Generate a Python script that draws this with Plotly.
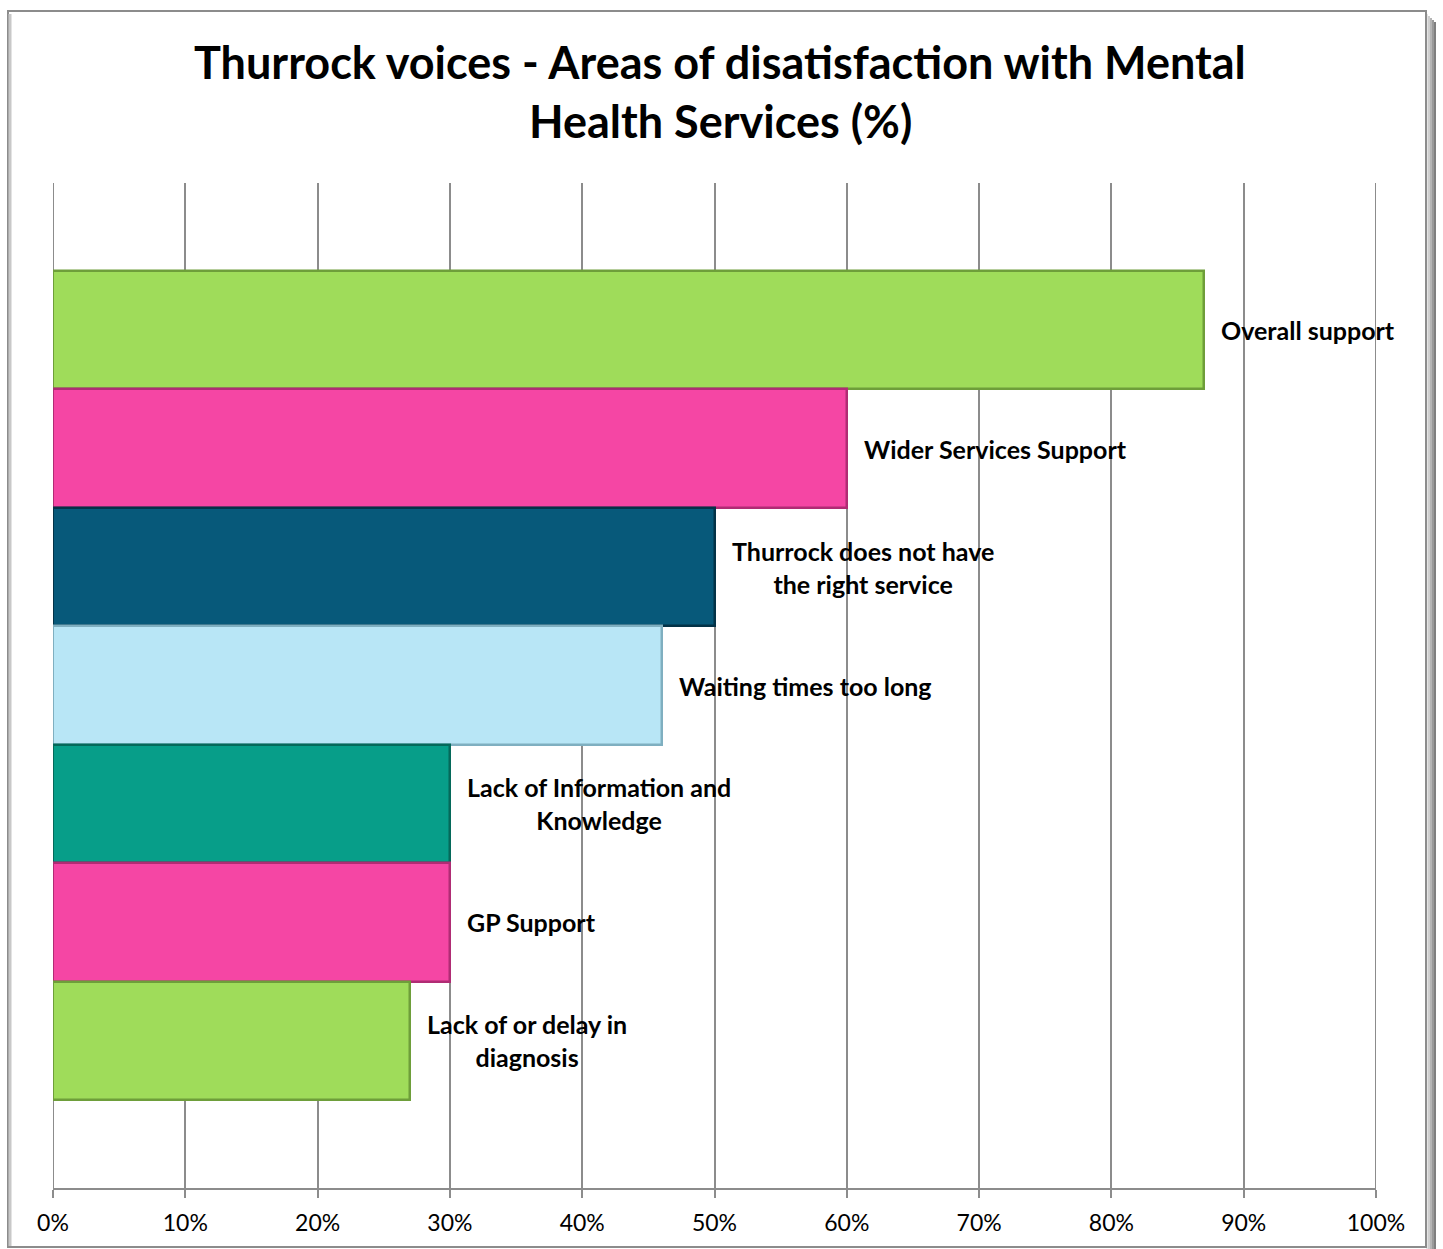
import plotly.graph_objects as go

categories = [
    "Overall support",
    "Wider Services Support",
    "Thurrock does not have<br>the right service",
    "Waiting times too long",
    "Lack of Information and<br>Knowledge",
    "GP Support",
    "Lack of or delay in<br>diagnosis",
]
values = [87, 60, 50, 46, 30, 30, 27]
colors = ["#9FDC5A", "#F546A4", "#07597A", "#B8E6F6", "#079E89", "#F546A4", "#9FDC5A"]
edge_colors = ["#6E9E3A", "#B02C74", "#033247", "#7FAFC0", "#05695A", "#B02C74", "#6E9E3A"]
tick_vals = [0, 10, 20, 30, 40, 50, 60, 70, 80, 90, 100]
tick_text = [f"{v}%" for v in tick_vals]
title_lines = ["Thurrock voices - Areas of disatisfaction with Mental", "Health Services (%)"]

n = len(categories)
ypos = [n - 1 - i for i in range(n)]

W, H = 1443, 1249
ml, mr, mt, mb = 53, 67, 183, 61
pw, ph = W - ml - mr, H - mt - mb

fig = go.Figure()
fig.add_trace(go.Bar(
    x=values, y=ypos, orientation="h", width=1.0,
    marker=dict(color=colors, line=dict(color=edge_colors, width=2.5)),
    hoverinfo="skip", showlegend=False,
))

FONT = "Lato, 'Open Sans', sans-serif"
annotations = []
for v, y, c in zip(values, ypos, categories):
    annotations.append(dict(
        x=v, y=y, xref="x", yref="y", text=f"<b>{c}</b>", showarrow=False,
        xanchor="left", yanchor="middle", align="center", xshift=15,
        font=dict(family=FONT, size=25, color="#000000"),
    ))
for i, (line, ycen) in enumerate(zip(title_lines, [62, 121])):
    annotations.append(dict(
        x=0.5, y=1, xref="paper", yref="paper", text=f"<b>{line}</b>", showarrow=False,
        xanchor="center", yanchor="middle", yshift=mt - ycen,
        xshift=(720 - (ml + pw / 2)),
        font=dict(family=FONT, size=45, color="#000000"),
    ))

def px_to_paper_x(px):
    return (px - ml) / pw

def px_to_paper_y(py):
    return (H - mb - py) / ph

shapes = []
# edge gridlines at the first and last tick
for tv in (tick_vals[0], tick_vals[-1]):
    shapes.append(dict(type="line", xref="x", yref="paper", x0=tv, x1=tv, y0=0, y1=1,
                       line=dict(color="#8c8c8c", width=2), layer="below"))
# shadow of frame (right side)
for k, col in enumerate(["#e4e4e4", "#cfcfcf", "#b5b5b5", "#9a9a9a", "#7f7f7f"]):
    xp = 1427 + 2 * k
    shapes.append(dict(type="line", xref="paper", yref="paper",
                       x0=px_to_paper_x(xp), x1=px_to_paper_x(xp),
                       y0=px_to_paper_y(14 + 2 * k), y1=px_to_paper_y(1249),
                       line=dict(color=col, width=2), layer="above"))
shapes.append(dict(type="rect", xref="paper", yref="paper",
                   x0=px_to_paper_x(8), x1=px_to_paper_x(1426),
                   y0=px_to_paper_y(1247), y1=px_to_paper_y(11),
                   line=dict(color="#8c8c8c", width=2), fillcolor="rgba(0,0,0,0)", layer="above"))
shapes.append(dict(type="line", xref="paper", yref="paper",
                   x0=px_to_paper_x(10), x1=px_to_paper_x(10),
                   y0=px_to_paper_y(1246), y1=px_to_paper_y(14),
                   line=dict(color="#c8c8c8", width=3), layer="above"))

fig.update_layout(
    width=W, height=H,
    margin=dict(l=ml, r=mr, t=mt, b=mb, pad=0),
    paper_bgcolor="#ffffff", plot_bgcolor="#ffffff",
    annotations=annotations, shapes=shapes,
    bargap=0,
    xaxis=dict(
        range=[0, 100], tickvals=tick_vals, ticktext=tick_text,
        showgrid=True, gridcolor="#8c8c8c", gridwidth=2,
        showline=True, linecolor="#8c8c8c", linewidth=2,
        ticks="outside", ticklen=8, tickcolor="#8c8c8c", tickwidth=2,
        tickfont=dict(family=FONT, size=23, color="#000000"),
        ticklabelstandoff=5,
        zeroline=False, layer="below traces", fixedrange=True,
    ),
    yaxis=dict(
        range=[-1.243, n - 0.5 + 0.743], showticklabels=False, showgrid=False,
        zeroline=False, showline=False, fixedrange=True,
    ),
)

fig.write_html("out.html")
